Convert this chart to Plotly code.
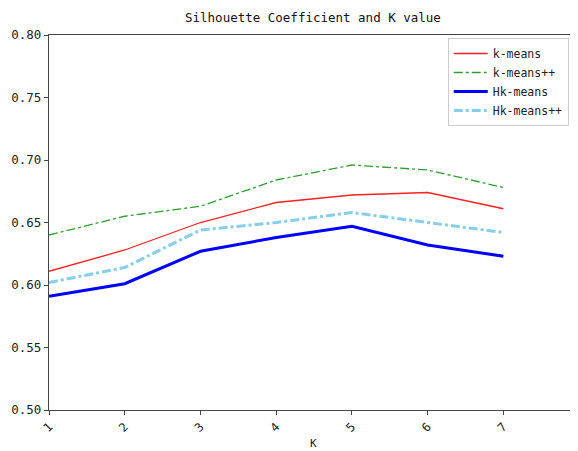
import plotly.graph_objects as go

k_values = [1, 2, 3, 4, 5, 6, 7]
kmeans = [0.611, 0.628, 0.650, 0.666, 0.672, 0.674, 0.661]
kmeans_pp = [0.640, 0.655, 0.663, 0.684, 0.696, 0.692, 0.678]
hk_means = [0.591, 0.601, 0.627, 0.638, 0.647, 0.632, 0.623]
hk_means_pp = [0.602, 0.614, 0.644, 0.650, 0.658, 0.650, 0.642]
y_ticks = [0.50, 0.55, 0.60, 0.65, 0.70, 0.75, 0.80]

FONT = "DejaVu Sans Mono"

fig = go.Figure()
fig.add_trace(go.Scatter(x=k_values, y=kmeans, mode="lines", name="k-means",
                         line=dict(color="#ff2020", width=1.3)))
fig.add_trace(go.Scatter(x=k_values, y=kmeans_pp, mode="lines", name="k-means++",
                         line=dict(color="#2ca02c", width=1.3, dash="dashdot")))
fig.add_trace(go.Scatter(x=k_values, y=hk_means, mode="lines", name="Hk-means",
                         line=dict(color="#0000ff", width=3)))
fig.add_trace(go.Scatter(x=k_values, y=hk_means_pp, mode="lines", name="Hk-means++",
                         line=dict(color="#87ceeb", width=3, dash="dashdot")))

fig.add_annotation(text="K", xref="paper", yref="paper", x=0.5, y=-0.09,
                   xanchor="center", yanchor="middle", showarrow=False,
                   font=dict(family=FONT, size=11, color="#222222"))

fig.update_layout(
    width=570, height=443,
    margin=dict(l=41, r=0, t=27, b=41),
    paper_bgcolor="white", plot_bgcolor="white",
    font=dict(family=FONT, size=11, color="#222222"),
    title=dict(text="Silhouette Coefficient and K value", x=0.535, xanchor="center",
               y=0.978, yanchor="middle", font=dict(family=FONT, size=12.5, color="#111111")),
    showlegend=True,
    legend=dict(x=0.9825, y=0.992, xanchor="right", yanchor="top",
                bgcolor="white", bordercolor="#cccccc", borderwidth=1,
                font=dict(family=FONT, size=11.5), itemwidth=34,
                tracegroupgap=0),
    xaxis=dict(range=[1, 7.985], tickmode="array", tickvals=k_values,
               ticktext=[str(k) for k in k_values], tickangle=-45,
               showgrid=False, zeroline=False, showline=True, linecolor="#444444",
               linewidth=1.2, mirror=True, ticks="outside", ticklen=4,
               tickcolor="#444444", tickfont=dict(size=12)),
    yaxis=dict(range=[0.50, 0.80], tickmode="array", tickvals=y_ticks,
               ticktext=[f"{v:.2f}" for v in y_ticks],
               showgrid=False, zeroline=False, showline=True, linecolor="#444444",
               linewidth=1.2, mirror=False, ticks="outside", ticklen=4,
               tickcolor="#444444", tickfont=dict(size=12.5)),
)

fig.write_html("out.html")
